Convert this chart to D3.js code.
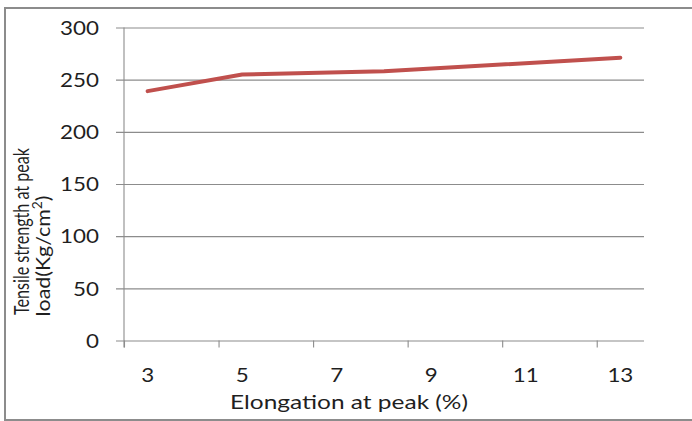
<!DOCTYPE html>
<html>
<head>
<meta charset="utf-8">
<script src="https://cdn.jsdelivr.net/npm/d3@7"></script>
<style>
  body { margin: 0; background: #fff; }
  svg { display: block; }
</style>
</head>
<body>
<svg id="chart" width="692" height="421"></svg>
<script>
// Tensile strength vs. elongation at peak load
const elongation = [3, 5, 8, 13];
const tensile = [239, 255, 258, 271];
const xTickMarks = [2.5, 4.5, 6.5, 8.5, 10.5, 12.5];
const xTickLabels = [3, 5, 7, 9, 11, 13];
const yTicks = [0, 50, 100, 150, 200, 250, 300];

const svg = d3.select("#chart");
const plotLeft = 124, plotRight = 644, plotTop = 27.5, plotBottom = 340.5;
const x = d3.scaleLinear().domain([2.5, 13.5]).range([plotLeft, plotRight]);
const y = d3.scaleLinear().domain([0, 300]).range([plotBottom, plotTop]);

const grey = "#8c8c8c";
const ink = "#1f1f1f";
const font = "Lato, 'Open Sans', sans-serif";
const stretch = 1.12; // glyphs are drawn slightly wide

// chart frame
svg.append("rect")
  .attr("x", 5).attr("y", 8)
  .attr("width", 720).attr("height", 412)
  .attr("fill", "none").attr("stroke", grey).attr("stroke-width", 2);

// horizontal gridlines, including the short outer tick on the left
svg.append("g")
  .attr("transform", `translate(${plotLeft - 8},0)`)
  .call(d3.axisRight(y).tickValues(yTicks).tickSize(plotRight - plotLeft + 8).tickFormat(""))
  .call(g => {
    g.select(".domain").remove();
    g.selectAll("line").attr("stroke", grey).attr("stroke-width", 1.1);
  });

// vertical axis line
svg.append("line")
  .attr("x1", plotLeft).attr("x2", plotLeft)
  .attr("y1", plotTop).attr("y2", plotBottom + 7)
  .attr("stroke", grey).attr("stroke-width", 1.1);

// tick marks below the horizontal axis
svg.append("g")
  .attr("transform", `translate(0,${plotBottom})`)
  .call(d3.axisBottom(x).tickValues(xTickMarks).tickSize(7).tickFormat(""))
  .call(g => {
    g.select(".domain").remove();
    g.selectAll("line").attr("stroke", grey).attr("stroke-width", 1.1);
  });

// y tick labels
svg.append("g").selectAll("text")
  .data(yTicks)
  .join("text")
  .attr("transform", d => `translate(99,${y(d)}) scale(${stretch},1)`)
  .attr("dy", "0.36em")
  .attr("text-anchor", "end")
  .attr("font-family", font).attr("font-size", 20).attr("fill", ink)
  .text(d => d);

// x tick labels
svg.append("g").selectAll("text")
  .data(xTickLabels)
  .join("text")
  .attr("transform", d => `translate(${x(d)},382.3) scale(${stretch},1)`)
  .attr("text-anchor", "middle")
  .attr("font-family", font).attr("font-size", 20).attr("fill", ink)
  .text(d => d);

// data line
const points = elongation.map((e, i) => [e, tensile[i]]);
svg.append("path")
  .datum(points)
  .attr("d", d3.line().x(d => x(d[0])).y(d => y(d[1])))
  .attr("fill", "none")
  .attr("stroke", "#c0504d")
  .attr("stroke-width", 4)
  .attr("stroke-linecap", "round")
  .attr("stroke-linejoin", "round");

// axis titles
svg.append("text")
  .attr("x", 349).attr("y", 409)
  .attr("text-anchor", "middle")
  .attr("textLength", 238).attr("lengthAdjust", "spacingAndGlyphs")
  .attr("font-family", font).attr("font-size", 20).attr("fill", ink)
  .text("Elongation at peak (%)");

svg.append("text")
  .attr("transform", "translate(28.5,315) rotate(-90)")
  .attr("textLength", 167).attr("lengthAdjust", "spacingAndGlyphs")
  .attr("font-family", font).attr("font-size", 21).attr("fill", ink)
  .text("Tensile strength at peak");

const t2 = svg.append("text")
  .attr("transform", "translate(50,316.5) rotate(-90)")
  .attr("textLength", 121).attr("lengthAdjust", "spacingAndGlyphs")
  .attr("font-family", font).attr("font-size", 20).attr("fill", ink);
t2.append("tspan").text("load(Kg/cm");
t2.append("tspan").attr("dy", -8).attr("font-size", 13).text("2");
t2.append("tspan").attr("dy", 8).text(")");
</script>
</body>
</html>
